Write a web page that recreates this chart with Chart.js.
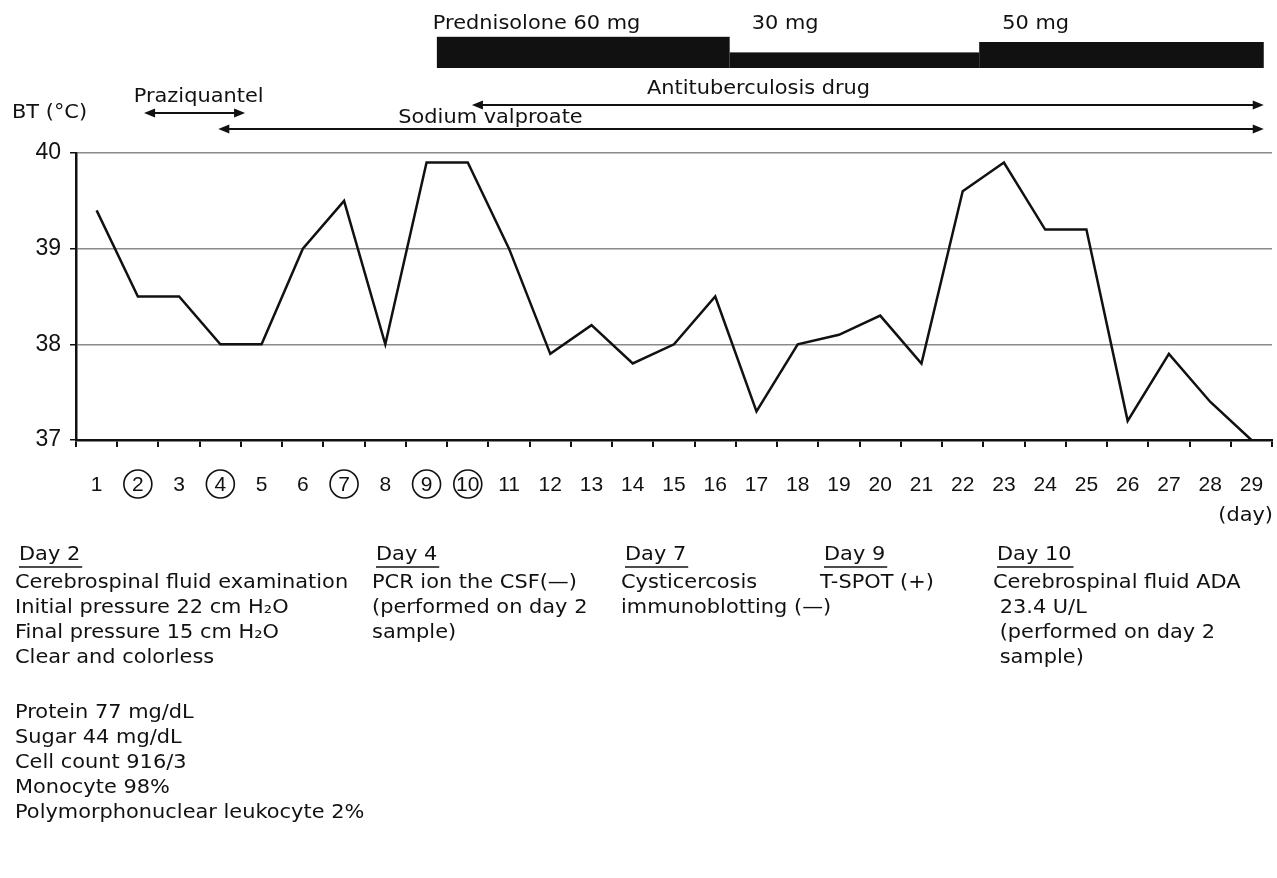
<!DOCTYPE html>
<html>
<head>
<meta charset="utf-8">
<script src="https://cdn.jsdelivr.net/npm/chart.js@4"></script>
<style>
  html, body { margin: 0; padding: 0; background: #fff; }
  #wrap { width: 1277px; height: 878px; }
</style>
</head>
<body>
<div id="wrap"><canvas id="grafico" width="1277" height="878"></canvas></div>
<script>
// dias e temperatura corporal
const days = ['1','2','3','4','5','6','7','8','9','10','11','12','13','14','15','16','17','18','19','20','21','22','23','24','25','26','27','28','29'];
const temps = [39.4, 38.5, 38.5, 38.0, 38.0, 39.0, 39.5, 38.0, 39.9, 39.9, 39.0, 37.9, 38.2, 37.8, 38.0, 38.5, 37.3, 38.0, 38.1, 38.3, 37.8, 39.6, 39.9, 39.2, 39.2, 37.2, 37.9, 37.4, 37.0];
const circledDays = [2, 4, 7, 9, 10];
const yTicks = [37, 38, 39, 40];

// prednisolona (dia inicial, dia final, dose)
const predStart = [9.25, 16.35, 22.4];
const predEnd = [16.35, 22.4, 29.3];
const predDose = [60, 30, 50];
const predLabels = ['Prednisolone 60 mg', '30 mg', '50 mg'];

// setas dos outros remédios
const drugNames = ['Praziquantel', 'Antituberculosis drug', 'Sodium valproate'];
const drugFrom = [2.15, 10.1, 3.95];
const drugTo = [4.6, 29.3, 29.3];
const drugLabelDay = [1.9, 17.05, 10.55];

// textos de exames
const notes = [
  { x: 15, head: 'Day 2', lines: ['Cerebrospinal fluid examination', 'Initial pressure 22 cm H\u2082O', 'Final pressure 15 cm H\u2082O', 'Clear and colorless', '', 'Protein 77 mg/dL', 'Sugar 44 mg/dL', 'Cell count 916/3', 'Monocyte 98%', 'Polymorphonuclear leukocyte 2%'] },
  { x: 372, head: 'Day 4', lines: ['PCR ion the CSF(\u2014)', '(performed on day 2', 'sample)'] },
  { x: 621, head: 'Day 7', lines: ['Cysticercosis', 'immunoblotting (\u2014)'] },
  { x: 820, head: 'Day 9', lines: ['T-SPOT (+)'] },
  { x: 993, head: 'Day 10', lines: ['Cerebrospinal fluid ADA', ' 23.4 U/L', ' (performed on day 2', ' sample)'] }
];

const FONTE_TXT = '"DejaVu Sans", sans-serif';
const FONTE_NUM = '"Liberation Sans", Arial, sans-serif';
const SX = 1.1; // texto um pouco mais largo, como no original

function texto(ctx, t, x, y, align) {
  ctx.save();
  ctx.translate(x, y);
  ctx.scale(SX, 1);
  ctx.textAlign = align || 'left';
  ctx.fillText(t, 0, 0);
  ctx.restore();
}

function seta(ctx, x1, x2, y) {
  ctx.beginPath();
  ctx.moveTo(x1 + 4, y);
  ctx.lineTo(x2 - 4, y);
  ctx.stroke();
  [[x1, 1], [x2, -1]].forEach(([x, d]) => {
    ctx.beginPath();
    ctx.moveTo(x, y);
    ctx.lineTo(x + d * 11, y - 4.5);
    ctx.lineTo(x + d * 11, y + 4.5);
    ctx.closePath();
    ctx.fill();
  });
}

const extras = {
  id: 'extras',
  afterDraw(chart) {
    const ctx = chart.ctx;
    const xs = chart.scales.x;
    const ca = chart.chartArea;
    const px = d => xs.getPixelForValue(d - 1);
    ctx.save();
    ctx.fillStyle = '#111';
    ctx.strokeStyle = '#111';

    // barras de prednisolona
    const base = ca.top - 85;
    predDose.forEach((dose, i) => {
      const h = dose * 0.52;
      ctx.fillRect(px(predStart[i]), base - h, px(predEnd[i]) - px(predStart[i]), h);
    });
    ctx.font = '19px ' + FONTE_TXT;
    ctx.textBaseline = 'middle';
    texto(ctx, predLabels[0], px(predStart[0]) - 4, 24);
    texto(ctx, predLabels[1], px(predStart[1]) + 22, 24);
    texto(ctx, predLabels[2], px(predStart[2]) + 23, 24);

    // setas
    const arrowY = [113, 105, 129];
    const labelY = [97, 89, 118];
    ctx.lineWidth = 2;
    drugNames.forEach((name, i) => {
      seta(ctx, px(drugFrom[i]), px(drugTo[i]), arrowY[i]);
      texto(ctx, name, px(drugLabelDay[i]), labelY[i], i === 0 ? 'left' : 'center');
    });

    // eixo y título
    ctx.font = '19px ' + FONTE_TXT;
    texto(ctx, 'BT (\u00B0C)', 12, 113);

    // círculos nos dias de exame
    ctx.lineWidth = 1.6;
    circledDays.forEach(d => {
      ctx.beginPath();
      ctx.arc(px(d), 484, 14, 0, Math.PI * 2);
      ctx.stroke();
    });

    // (day)
    ctx.font = '19px ' + FONTE_TXT;
    texto(ctx, '(day)', 1273, 516, 'right');

    // notas
    notes.forEach(n => {
      texto(ctx, n.head, n.x + 4, 555);
      const w = ctx.measureText(n.head).width * SX;
      ctx.lineWidth = 1.5;
      ctx.beginPath();
      ctx.moveTo(n.x + 4, 567);
      ctx.lineTo(n.x + 6 + w, 567);
      ctx.stroke();
      let y = 583;
      n.lines.forEach(t => {
        texto(ctx, t, n.x, y);
        y += t === '' ? 30 : 25;
      });
    });
    ctx.restore();
  }
};

new Chart(document.getElementById('grafico'), {
  type: 'line',
  data: {
    labels: days,
    datasets: [{
      data: temps,
      borderColor: '#111',
      borderWidth: 2.5,
      pointRadius: 0,
      tension: 0,
      fill: false
    }]
  },
  options: {
    responsive: false,
    animation: false,
    layout: { padding: { top: 153, right: 5, left: 0, bottom: 0 } },
    plugins: { legend: { display: false }, tooltip: { enabled: false } },
    scales: {
      x: {
        offset: true,
        grid: { offset: true, drawOnChartArea: false, tickLength: 7, color: '#111', lineWidth: 2 },
        border: { color: '#111', width: 2.5 },
        ticks: { color: '#111', font: { size: 21, family: FONTE_NUM }, padding: 26, maxRotation: 0, autoSkip: false },
        afterFit: s => { s.height = 438; s.paddingRight = 0; s.paddingLeft = 0; }
      },
      y: {
        min: 37,
        max: 40,
        afterBuildTicks: s => { s.ticks = yTicks.map(v => ({ value: v })); },
        grid: { color: '#8a8a8a', lineWidth: 1.5, tickLength: 6, tickColor: '#111' },
        border: { color: '#111', width: 2.5 },
        ticks: { color: '#111', font: { size: 23, family: FONTE_NUM }, padding: 9 },
        afterFit: s => { s.width = 76; }
      }
    }
  },
  plugins: [extras]
});
</script>
</body>
</html>
